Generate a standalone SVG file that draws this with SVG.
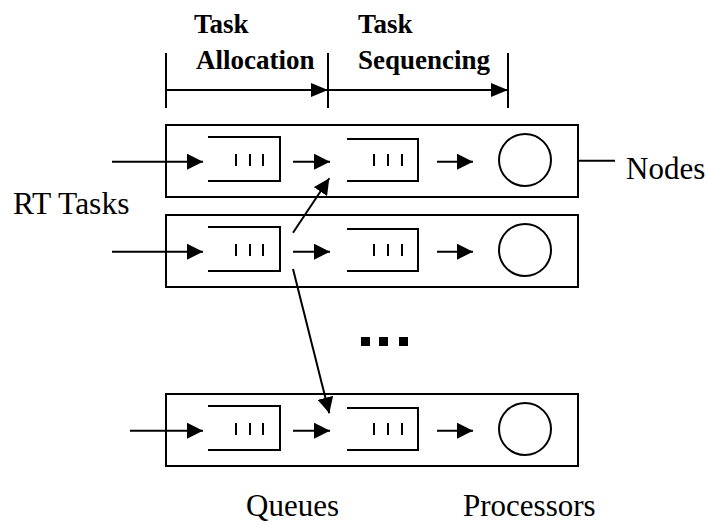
<svg xmlns="http://www.w3.org/2000/svg" width="706" height="524" viewBox="0 0 706 524">
<style>
.ln{stroke:#000;stroke-width:2;fill:none}
.ar{stroke:#000;stroke-width:2;fill:none;marker-end:url(#ah)}
.br{stroke:#000;stroke-width:2;fill:none;marker-end:url(#bh)}
.lbl{font-family:"Liberation Serif","Times New Roman",serif;font-size:31px;fill:#000}
.hd{font-family:"Liberation Serif","Times New Roman",serif;font-size:27px;font-weight:bold;fill:#000}
</style>
<defs>
<marker id="ah" markerUnits="userSpaceOnUse" markerWidth="16" markerHeight="16" refX="16" refY="8" orient="auto">
<path d="M0,0 L16,8 L0,16 z" fill="#000"/>
</marker>
<marker id="bh" markerUnits="userSpaceOnUse" markerWidth="17" markerHeight="14" refX="17" refY="7" orient="auto">
<path d="M0,0 L17,7 L0,14 z" fill="#000"/>
</marker>
<g id="queue">
<path class="ln" d="M208,12 H280 V56 H208"/>
<path class="ln" d="M236,29 V41 M250,29 V41 M263,29 V41"/>
</g>
<g id="queue2">
<path class="ln" d="M347,14 H418 V56 H347"/>
<path class="ln" d="M374,29 V41 M388,29 V41 M402,29 V41"/>
</g>
</defs>

<g id="header">
<text class="hd" x="194" y="33">Task</text>
<text class="hd" x="196" y="69">Allocation</text>
<text class="hd" x="358" y="33">Task</text>
<text class="hd" x="358" y="69">Sequencing</text>
<path class="ln" d="M166,53 V108 M328,53 V108 M508,53 V108"/>
<line class="br" x1="166" y1="90" x2="328" y2="90"/>
<line class="br" x1="328" y1="90" x2="508" y2="90"/>
</g>

<g id="node1" transform="translate(0,125)">
<rect class="ln" x="166" y="0" width="412" height="72"/>
<use href="#queue"/>
<use href="#queue2"/>
<circle class="ln" cx="525" cy="35" r="26"/>
</g>
<g id="node2" transform="translate(0,215)">
<rect class="ln" x="166" y="0" width="412" height="72"/>
<use href="#queue"/>
<use href="#queue2"/>
<circle class="ln" cx="525" cy="35" r="26"/>
</g>
<g id="node3" transform="translate(0,394)">
<rect class="ln" x="166" y="0" width="412" height="72"/>
<use href="#queue"/>
<use href="#queue2"/>
<circle class="ln" cx="525" cy="35" r="26"/>
</g>

<g id="ellipsis">
<rect x="361" y="337" width="9" height="9" fill="#000"/>
<rect x="379" y="337" width="9" height="9" fill="#000"/>
<rect x="399" y="337" width="9" height="9" fill="#000"/>
</g>

<g id="connectors">
<line class="ar" x1="112" y1="161.7" x2="203" y2="161.7"/>
<line class="ar" x1="293" y1="161.7" x2="330" y2="161.7"/>
<line class="ar" x1="437" y1="161.7" x2="473" y2="161.7"/>
<line class="ar" x1="112" y1="251.7" x2="203" y2="251.7"/>
<line class="ar" x1="293" y1="251.7" x2="330" y2="251.7"/>
<line class="ar" x1="437" y1="251.7" x2="473" y2="251.7"/>
<line class="ar" x1="130" y1="430.7" x2="203" y2="430.7"/>
<line class="ar" x1="293" y1="430.7" x2="330" y2="430.7"/>
<line class="ar" x1="437" y1="430.7" x2="473" y2="430.7"/>
<line class="ar" x1="293" y1="232.7" x2="329.3" y2="178.3"/>
<line class="ar" x1="293" y1="269" x2="329.3" y2="413.3"/>
<line class="ln" x1="578" y1="160.7" x2="615" y2="160.7"/>
</g>

<g id="labels">
<text class="lbl" x="13" y="214" style="font-size:31.5px">RT Tasks</text>
<text class="lbl" x="626" y="179">Nodes</text>
<text class="lbl" x="246" y="516">Queues</text>
<text class="lbl" x="463" y="516">Processors</text>
</g>
</svg>
